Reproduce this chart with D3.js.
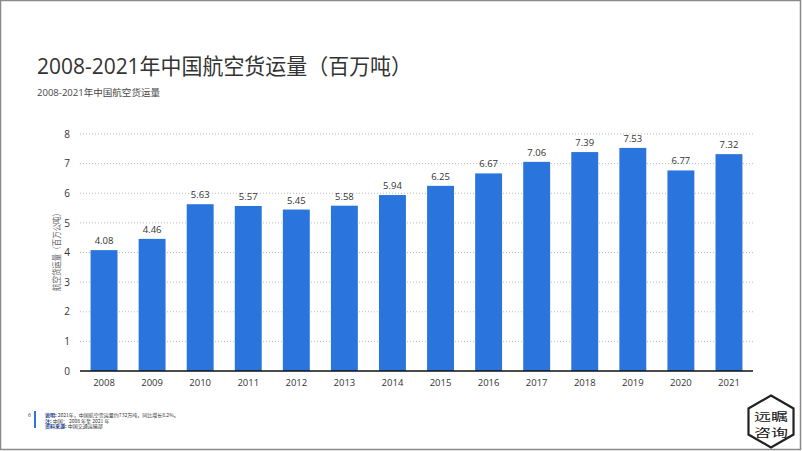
<!DOCTYPE html>
<html><head><meta charset="utf-8">
<script src="https://cdn.jsdelivr.net/npm/d3@7/dist/d3.min.js"></script>
<style>
body{margin:0;background:#fff;}
svg{display:block;font-family:"Open Sans","Noto Sans CJK SC",sans-serif;}
</style></head>
<body><svg id="c" width="802" height="451"></svg>
<script>
const years = ["2008","2009","2010","2011","2012","2013","2014","2015","2016","2017","2018","2019","2020","2021"];
const values = [4.08,4.46,5.63,5.57,5.45,5.58,5.94,6.25,6.67,7.06,7.39,7.53,6.77,7.32];
const yTicks = [0,1,2,3,4,5,6,7,8];
const title = "2008-2021年中国航空货运量（百万吨）";
const subtitle = "2008-2021年中国航空货运量";
const yTitle = "航空货运量（百万公吨）";
const notes = [
  ["说明:", " 2021年，中国航空货运量约732万吨，同比增长8.2%。"],
  ["注:", " 中国； 2008 年至 2021 年"],
  ["资料来源:", " 中国交通运输部"]
];
const logoLines = ["远瞩","咨询"];

const svg = d3.select("#c");
const W = 802, H = 451;
const cjk = "'Noto Sans CJK SC',sans-serif";

// frame
svg.append("rect").attr("x",0.5).attr("y",0.5).attr("width",W-2).attr("height",H-2)
  .attr("fill","none").attr("stroke","#8a8a8a").attr("stroke-width",1.5);

svg.append("text").attr("x",37).attr("y",74).attr("font-size",21.5).attr("fill","#333")
  .attr("textLength",375).attr("lengthAdjust","spacingAndGlyphs")
  .attr("font-family","'Open Sans','Noto Sans CJK SC',sans-serif").text(title);
svg.append("text").attr("x",37).attr("y",96).attr("font-size",9).attr("fill","#444")
  .attr("textLength",123).attr("lengthAdjust","spacingAndGlyphs")
  .attr("font-family","'Open Sans','Noto Sans CJK SC',sans-serif").text(subtitle);

const x = d3.scaleBand().domain(years).range([80,753]).paddingInner(0.44).paddingOuter(0.22);
const y = d3.scaleLinear().domain([0,8]).range([371,134]);

// gridlines
svg.append("g").selectAll("line").data(yTicks.filter(d=>d>0)).join("line")
  .attr("x1",80).attr("x2",753).attr("y1",d=>y(d)).attr("y2",d=>y(d))
  .attr("stroke","#bbb").attr("stroke-width",1).attr("stroke-dasharray","1,2");

// y axis labels
const yAxis = d3.axisLeft(y).tickValues(yTicks).tickSize(0).tickPadding(0).tickFormat(d3.format("d"));
const gy = svg.append("g").attr("transform","translate(70,0)").call(yAxis);
gy.select(".domain").remove();
gy.selectAll("text").attr("font-size",10).attr("fill","#333").attr("font-family","'Open Sans',sans-serif");

// bars
svg.append("g").selectAll("rect").data(values).join("rect")
  .attr("x",(d,i)=>x(years[i])).attr("width",x.bandwidth())
  .attr("y",d=>y(d)).attr("height",d=>y(0)-y(d)).attr("fill","#2a75dd");

// value labels
svg.append("g").selectAll("text").data(values).join("text")
  .attr("x",(d,i)=>x(years[i])+x.bandwidth()/2).attr("y",d=>y(d)-6)
  .attr("text-anchor","middle").attr("font-size",9.5).attr("fill","#333")
  .attr("font-family","'Open Sans',sans-serif").text(d=>d.toFixed(2));

// x axis
const xAxis = d3.axisBottom(x).tickSize(0).tickPadding(8);
const gx = svg.append("g").attr("transform","translate(0,371)").call(xAxis);
gx.select(".domain").attr("stroke","#111").attr("stroke-width",1.6).attr("d","M80,0H753");
gx.selectAll("text").attr("font-size",9.5).attr("fill","#333").attr("font-family","'Open Sans',sans-serif");

// y title
svg.append("text").attr("transform","translate(60,250) rotate(-90)").attr("text-anchor","middle")
  .attr("font-size",9).attr("fill","#666").attr("textLength",82).attr("lengthAdjust","spacingAndGlyphs")
  .attr("font-family","'Noto Sans CJK SC',sans-serif").text(yTitle);

// footnote
svg.append("text").attr("x",28).attr("y",417).attr("font-size",5).attr("fill","#333").text("6");
svg.append("rect").attr("x",34).attr("y",411).attr("width",2).attr("height",17).attr("fill","#2a75dd");
notes.forEach((n,i)=>{
  const t = svg.append("text").attr("x",45).attr("y",417+i*5.6).attr("font-size",5).attr("fill","#333").attr("font-family",cjk);
  t.append("tspan").attr("font-weight","bold").attr("fill","#1a3e8a").text(n[0]);
  t.append("tspan").text(n[1]);
});

// logo hexagon (pointy top)
const cx=771, cy=421.5, r=26;
const hex = d3.range(6).map(k=>{const a=Math.PI/3*k - Math.PI/2; return [cx+r*Math.cos(a), cy+r*Math.sin(a)];});
svg.append("polygon").attr("points",hex.map(p=>p.join(",")).join(" ")).attr("fill","#fff").attr("stroke","#222").attr("stroke-width",2.2);
logoLines.forEach((s,i)=>{
  svg.append("text").attr("font-size",11).attr("fill","#111").attr("font-family",cjk)
    .attr("x",cx-17).attr("y",cy-1+i*16)
    .attr("textLength",34).attr("lengthAdjust","spacingAndGlyphs").text(s);
});
</script></body></html>
